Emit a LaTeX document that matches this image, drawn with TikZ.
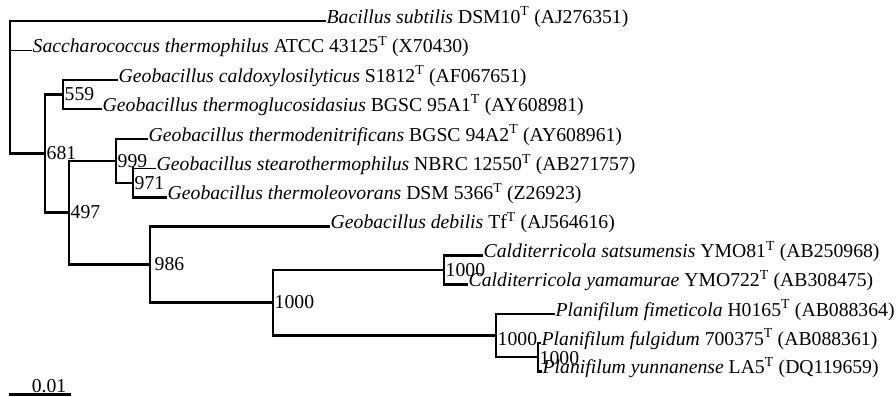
\documentclass[tikz,border=0pt]{standalone}
\usepackage{fontspec}
\setmainfont{Liberation Serif}
\begin{document}
\begin{tikzpicture}[x=1pt,y=-1pt,
  lf/.style={anchor=mid west, inner sep=1.5pt, font=\fontsize{19.7}{22}\selectfont},
  bs/.style={anchor=west, inner sep=1.5pt, font=\fontsize{19.7}{22}\selectfont},
  tk/.style={line width=2.9pt},
  tn/.style={line width=1.9pt},
  md/.style={line width=2.3pt},
  line cap=rect]
\useasboundingbox (0,0) rectangle (896,396);
% internal nodes
\coordinate (root) at (10,21);
\coordinate (n681) at (45,153.5);
\coordinate (n559) at (63,94.5);
\coordinate (n497) at (69,212.5);
\coordinate (n999) at (116,161);
\coordinate (n971) at (133,183);
\coordinate (n986) at (150,264.5);
\coordinate (n1000) at (273,302.5);
\coordinate (nC) at (444,270);
\coordinate (nP) at (496,335.5);
\coordinate (nPs) at (538,357);
% leaves
\node[lf] (bsub) at (325,21) {\textit{Bacillus subtilis} DSM10\textsuperscript{T} (AJ276351)};
\node[lf] (sacc) at (31,50.5) {\textit{Saccharococcus thermophilus} ATCC 43125\textsuperscript{T} (X70430)};
\node[lf] (cald) at (117,80) {\textit{Geobacillus caldoxylosilyticus} S1812\textsuperscript{T} (AF067651)};
\node[lf] (gluc) at (101,109) {\textit{Geobacillus thermoglucosidasius} BGSC 95A1\textsuperscript{T} (AY608981)};
\node[lf] (deni) at (147,139) {\textit{Geobacillus thermodenitrificans} BGSC 94A2\textsuperscript{T} (AY608961)};
\node[lf] (stea) at (155,168.5) {\textit{Geobacillus stearothermophilus} NBRC 12550\textsuperscript{T} (AB271757)};
\node[lf] (leov) at (166,197.5) {\textit{Geobacillus thermoleovorans} DSM 5366\textsuperscript{T} (Z26923)};
\node[lf] (debi) at (329,226.5) {\textit{Geobacillus debilis} Tf\textsuperscript{T} (AJ564616)};
\node[lf] (sats) at (482,255.5) {\textit{Calditerricola satsumensis} YMO81\textsuperscript{T} (AB250968)};
\node[lf] (yama) at (467,284.5) {\textit{Calditerricola yamamurae} YMO722\textsuperscript{T} (AB308475)};
\node[lf] (fime) at (554,314) {\textit{Planifilum fimeticola} H0165\textsuperscript{T} (AB088364)};
\node[lf] (fulg) at (540,343) {\textit{Planifilum fulgidum} 700375\textsuperscript{T} (AB088361)};
\node[lf] (yunn) at (541,371.5) {\textit{Planifilum yunnanense} LA5\textsuperscript{T} (DQ119659)};
% branches: vertical part, then horizontal part
\draw[md] (root) -- (bsub.mid west);
\draw[tk] (root) -- (root |- sacc.mid west);
\draw[tn] (root |- sacc.mid west) -- (sacc.mid west);
\draw[tk] (root |- sacc.mid west) -- (root |- n681);
\draw[tk] (root |- n681) -- (n681);
% 681
\draw[tk] (n681) -- (n681 |- n559) -- (n559);
\draw[tk] (n681) -- (n681 |- n497) -- (n497);
% 559
\draw[tk] (n559) -- (n559 |- cald.mid west) -- (cald.mid west);
\draw[tk] (n559) -- (n559 |- gluc.mid west) -- (gluc.mid west);
% 497
\draw[tn] (n497) -- (n497 |- n999) -- (n999);
\draw[tn] (n497) -- (n497 |- n986);
\draw[tk] (n497 |- n986) -- (n986);
% 999
\draw[tn] (n999) -- (n999 |- deni.mid west) -- (deni.mid west);
\draw[tk] (n999) -- (n999 |- n971) -- (n971);
% 971
\draw[tk] (n971) -- (n971 |- stea.mid west);
\draw[tn] (n971 |- stea.mid west) -- (stea.mid west);
\draw[tk] (n971) -- (n971 |- leov.mid west) -- (leov.mid west);
% 986
\draw[tk] (n986) -- (n986 |- debi.mid west);
\draw[md] (n986 |- debi.mid west) -- (debi.mid west);
\draw[tk] (n986) -- (n986 |- n1000) -- (n1000);
% 1000
\draw[tk] (n1000) -- (n1000 |- nC);
\draw[tn] (n1000 |- nC) -- (nC);
\draw[tk] (n1000) -- (n1000 |- nP) -- (nP);
% C
\draw[tk] (nC) -- (nC |- sats.mid west) -- (sats.mid west);
\draw[tk] (nC) -- (nC |- yama.mid west);
\draw[md] (nC |- yama.mid west) -- (yama.mid west);
% P
\draw[tk] (nP) -- (nP |- fime.mid west) -- (fime.mid west);
\draw[tk] (nP) -- (nP |- nPs) -- (nPs);
\draw[tk] (nPs) -- (nPs |- fulg.mid west);
\draw[md] (nPs |- fulg.mid west) -- (fulg.mid west);
\draw[tk] (nPs) -- (nPs |- yunn.mid west);
\draw[md] (nPs |- yunn.mid west) -- (yunn.mid west);
% bootstrap values
\node[bs] (b559) at (n559) {559};
\node[bs] (b681) at (n681) {681};
\node[bs] (b497) at (n497) {497};
\node[bs] (b999) at (n999) {999};
\node[bs] (b971) at (n971) {971};
\node[bs] (b986) at ([xshift=3pt]n986) {986};
\node[bs] (b1000) at (n1000) {1000};
\node[bs] (bC) at (nC) {1000};
\node[bs, yshift=-4pt] (bP) at (nP) {1000};
\node[bs, yshift=-1pt] (bPs) at (nPs) {1000};
% scale bar
\coordinate (sb1) at (9,394.5);
\coordinate (sb2) at (71,394.5);
\draw[tk, line cap=butt] (sb1) -- (sb2);
\node[anchor=base, inner sep=0pt, font=\fontsize{19.7}{22}\selectfont] (sbl) at (49,392.3) {0.01};
\end{tikzpicture}
\end{document}
